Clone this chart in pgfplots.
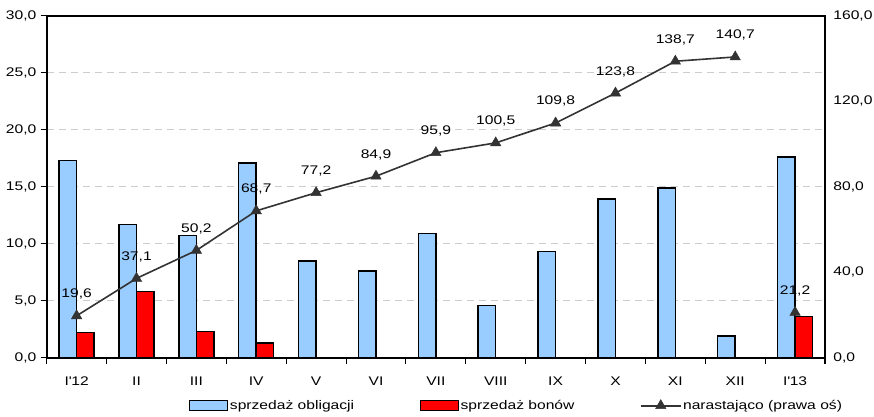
\documentclass[border=0pt]{standalone}
\usepackage{fontspec}
\setmainfont{Liberation Sans}[FakeStretch=1.25]
\usepackage{pgfplots}
\pgfplotsset{compat=1.18}
\definecolor{barblue}{HTML}{99CCFF}
\definecolor{barred}{HTML}{FF0000}
\definecolor{linegray}{HTML}{333333}
\pgfplotsset{
  barlegend/.style={legend image code/.code={\draw[##1] (0pt,-5pt) rectangle (38pt,5pt);}},
  linelegend/.style={legend image code/.code={\draw[mark repeat=2,mark phase=2,##1] plot coordinates {(0pt,0pt) (20pt,0pt) (40pt,0pt)};}},
}
\begin{document}
\fontsize{12.5}{14}\selectfont
\begin{tikzpicture}
\useasboundingbox (0,0) rectangle (874pt,416pt);
\begin{axis}[
  at={(46.7pt,58.3pt)}, anchor=south west,
  scale only axis, width=778.3pt, height=342pt,
  xmin=-0.5, xmax=12.5, ymin=0, ymax=30,
  axis line style={line width=1.8pt},
  xtick={-0.5,0.5,...,12.5},
  x tick label as interval,
  xticklabels={I\textquotesingle12,II,III,IV,V,VI,VII,VIII,IX,X,XI,XII,I\textquotesingle13},
  ytick={0,5,...,30},
  xtick pos=bottom, ytick pos=left,
  tick align=outside, major tick length=6pt,
  tick style={line width=1.1pt, black},
  ymajorgrids,
  major grid style={dash pattern=on 7pt off 5pt, gray!40, line width=0.9pt},
  yticklabel style={/pgf/number format/.cd, fixed, fixed zerofill, precision=1, use comma, assume math mode=true},
  xticklabel style={yshift=-9pt},
]
\addplot[ybar, bar width=17.5pt, bar shift=-8.75pt, fill=barblue, draw=black, line width=1.5pt]
  coordinates {(0,17.3) (1,11.7) (2,10.7) (3,17.1) (4,8.5) (5,7.6) (6,10.9) (7,4.6) (8,9.3) (9,13.9) (10,14.9) (11,1.9) (12,17.6)};
\addplot[ybar, bar width=17.5pt, bar shift=8.75pt, fill=barred, draw=black, line width=1.5pt]
  coordinates {(0,2.2) (1,5.8) (2,2.3) (3,1.3) (12,3.6)};
\end{axis}
\begin{axis}[
  at={(46.7pt,58.3pt)}, anchor=south west,
  scale only axis, width=778.3pt, height=342pt,
  xmin=-0.5, xmax=12.5, ymin=0, ymax=160,
  axis x line=none, axis y line*=right,
  y axis line style={draw=none},
  ytick={0,40,...,160}, major tick length=0pt,
  yticklabel style={xshift=4pt, /pgf/number format/.cd, fixed, fixed zerofill, precision=1, use comma, assume math mode=true},
  legend style={at={(0.1828,-0.1404)}, anchor=west, draw=none, fill=none, inner sep=0pt, outer sep=0pt,
    legend columns=3, nodes={inner sep=1.5pt},
    /tikz/every even column/.append style={column sep=64pt}},
  legend cell align=left,
]
\addlegendimage{barlegend, fill=barblue, draw=black, line width=1.5pt}
\addlegendentry{sprzedaż obligacji}
\addlegendimage{barlegend, fill=barred, draw=black, line width=1.5pt}
\addlegendentry{sprzedaż bonów}
\addplot[linelegend, color=linegray, line width=1.6pt, mark=triangle*, mark size=6pt,
  mark options={fill=linegray, line width=0.5pt},
  nodes near coords,
  every node near coord/.append style={text=black, yshift=12pt, anchor=south,
    /pgf/number format/.cd, fixed, fixed zerofill, precision=1, use comma, assume math mode=true}]
  coordinates {(0,19.6) (1,37.1) (2,50.2) (3,68.7) (4,77.2) (5,84.9) (6,95.9) (7,100.5) (8,109.8) (9,123.8) (10,138.7) (11,140.7)};
\addlegendentry{narastająco (prawa oś)}
\addplot[forget plot, color=linegray, line width=1.6pt, mark=triangle*, mark size=6pt,
  mark options={fill=linegray, line width=0.5pt},
  nodes near coords,
  every node near coord/.append style={text=black, yshift=12pt, anchor=south,
    /pgf/number format/.cd, fixed, fixed zerofill, precision=1, use comma, assume math mode=true}]
  coordinates {(12,21.2)};
\end{axis}
\end{tikzpicture}
\end{document}
